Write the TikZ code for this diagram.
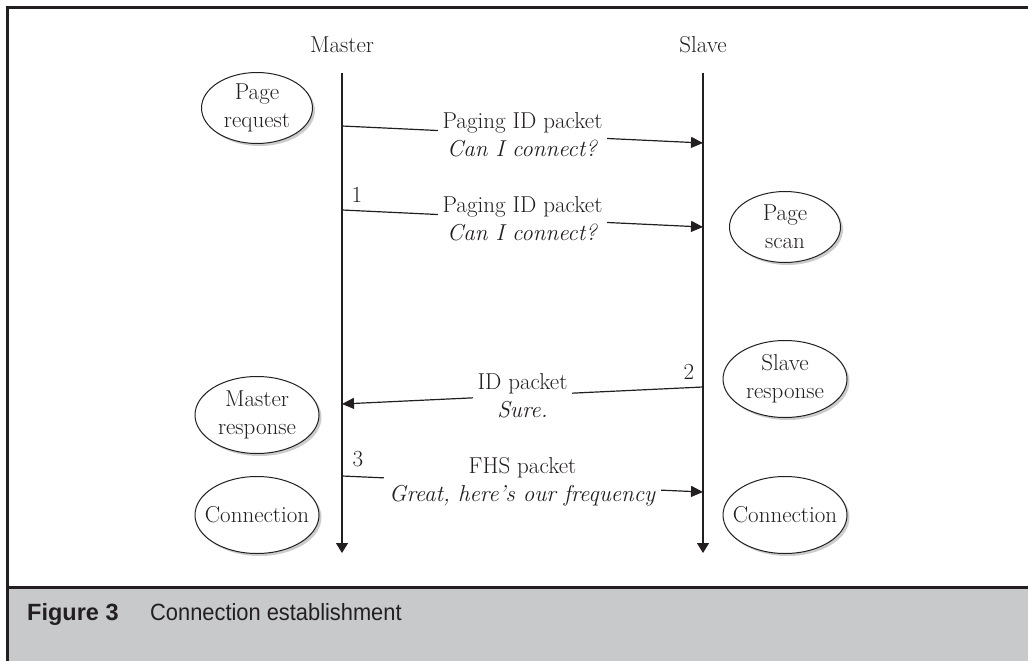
\documentclass[tikz,border=0pt]{standalone}
\usepackage{fontspec}
\newfontfamily\capfont{Liberation Sans}
\usetikzlibrary{arrows.meta,shapes.geometric,shadows}
\definecolor{ink}{HTML}{231F20}
\definecolor{capgray}{HTML}{C8C9CB}
\begin{document}
\begin{tikzpicture}[x=1pt,y=-1pt,
  every node/.style={text=ink},
  % outline of a state (fixed size, independent of its text)
  state/.style={ellipse, draw=ink, line width=1pt, fill=white, inner sep=0pt,
    drop shadow={shadow xshift=2.5pt, shadow yshift=-2.5pt, fill=black!40, opacity=0.5}},
  smallstate/.style={minimum width=111pt, minimum height=71pt},
  bigstate/.style={minimum width=124pt, minimum height=77pt},
  statetext/.style={align=center, inner sep=0pt, font=\fontsize{23}{28}\selectfont},
  life/.style={draw=ink, line width=1.2pt, -{Triangle[length=10pt,width=12pt]}},
  msg/.style={draw=ink, line width=1.2pt, -{Triangle[length=12pt,width=11pt]}},
  msglabel/.style={fill=white, align=center, inner xsep=5pt, inner ysep=1pt,
    font=\fontsize{23}{28}\selectfont},
  num/.style={font=\fontsize{23}{24}\selectfont},
  head/.style={font=\fontsize{23}{24}\selectfont}]

\useasboundingbox (0,0) rectangle (1028,661);
\clip (0,0) rectangle (1028,661);

% frame and caption band
\fill[capgray] (7.5,587) rectangle (1040,670);
\draw[ink, line width=3pt] (1040,7.5) -- (7.5,7.5) -- (7.5,670);
\draw[ink, line width=3pt] (7.5,587) -- (1040,587);

% lifelines
\node[head] (mhead) at (342,45) {Master};
\node[head] (shead) at (703,45) {Slave};
\coordinate (mtop) at (342,73);
\coordinate (mbot) at (342,553);
\coordinate (stop) at (703,73);
\coordinate (sbot) at (703,553);
\draw[life] (mtop) -- (mbot);
\draw[life] (stop) -- (sbot);

% messages
\coordinate (m1) at (342,126); \coordinate (s1) at (703,143);
\coordinate (m2) at (342,210); \coordinate (s2) at (703,227);
\coordinate (s3) at (703,387); \coordinate (m3) at (342,404);
\coordinate (m4) at (342,476); \coordinate (s4) at (703,492);

\draw[msg] (m1) -- node[msglabel] (l1) {Paging ID packet\\\textit{Can I connect?}} (s1);
\draw[msg] (m2) -- node[msglabel] (l2) {Paging ID packet\\\textit{Can I connect?}} (s2);
\draw[msg] (s3) -- node[msglabel] (l3) {ID packet\\\textit{Sure.}} (m3);
\draw[msg] (m4) -- node[msglabel, yshift=2pt] (l4) {FHS packet\\\textit{Great, here’s our frequency}} (s4);

\node[num] (n1) at (357,195) {1};
\node[num] (n2) at (689,372) {2};
\node[num] (n3) at (358,459) {3};

% states
\node[state,smallstate] (preq) at (257,108) {};
\node[statetext] (preqt) at (preq) {Page\\request};
\node[state,smallstate] (pscan) at (785,227) {};
\node[statetext] (pscant) at (pscan) {Page\\scan};
\node[state,bigstate] (sresp) at (785,379) {};
\node[statetext] (srespt) at (sresp) {Slave\\response};
\node[state,bigstate] (mresp) at (257,415) {};
\node[statetext] (mrespt) at (mresp) {Master\\response};
\node[state,bigstate] (mconn) at (257,515) {};
\node[statetext] (mconnt) at (mconn) {Connection};
\node[state,bigstate] (sconn) at (785,515) {};
\node[statetext] (sconnt) at (sconn) {Connection};

% caption
\node[anchor=base west, inner sep=0pt, font=\capfont\bfseries\fontsize{23.5}{28}\selectfont] (fig) at (27,620) {Figure 3};
\node[anchor=base west, inner sep=0pt, font=\capfont\fontsize{23.5}{28}\selectfont] (captxt) at (150,620) {\scalebox{0.93}[1]{Connection establishment}};
\end{tikzpicture}
\end{document}
